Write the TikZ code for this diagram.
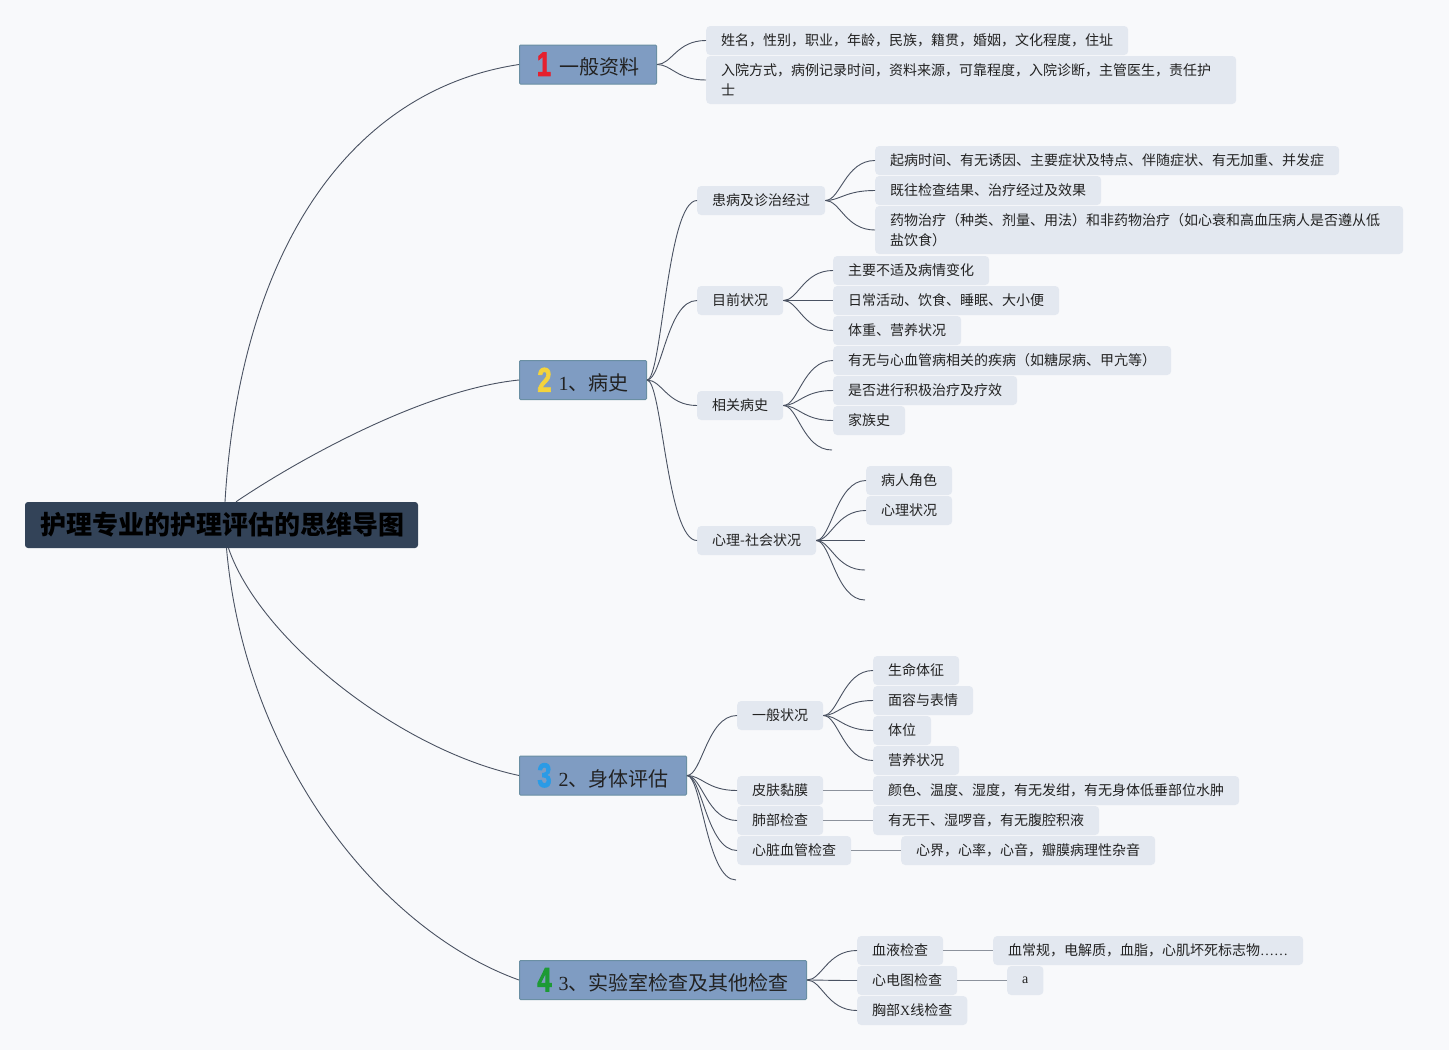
\documentclass[tikz,border=0pt]{standalone}
\usepackage{fontspec}
\usepackage{graphicx}
\setmainfont{Noto Sans CJK SC}
\newfontfamily\numfont{Liberation Sans}[BoldFeatures={FakeBold=2.5}]
\newfontfamily\lserif{Liberation Serif}
\usetikzlibrary{calc}
\definecolor{bgc}{HTML}{F8F9FB}
\definecolor{subc}{HTML}{E3E8F0}
\definecolor{topc}{HTML}{7F9CC2}
\definecolor{topb}{HTML}{6A8FA3}
\definecolor{rootc}{HTML}{334358}
\definecolor{linec}{HTML}{4A5262}
\definecolor{flatc}{HTML}{8C929C}
\definecolor{txtc}{HTML}{222222}
\definecolor{numA}{HTML}{E5202E}
\definecolor{numB}{HTML}{F4D33C}
\definecolor{numC}{HTML}{2B9BE6}
\definecolor{numD}{HTML}{1D9A35}
\newcommand\bignum[2]{\textcolor{#1}{\raisebox{-1pt}{\scalebox{0.75}[1]{\numfont\bfseries\fontsize{34}{34}\selectfont #2}}}}
\newcommand\curv[2]{\draw[conn] let \p1=(#1), \p2=(#2) in (\p1) .. controls (0.7*\x1+0.3*\x2, \y1) and (0.6*\x1+0.4*\x2, \y2) .. (\p2);}
\begin{document}
\begin{tikzpicture}[x=1pt,y=-1pt,
  sub/.style={fill=subc, rounded corners=4pt, inner xsep=15pt, inner ysep=0pt, minimum height=29pt, anchor=west, font=\fontsize{14}{20}\selectfont, text=txtc},
  topic/.style={fill=topc, draw=topb, line width=1pt, inner xsep=0pt, inner ysep=0pt, minimum height=39pt, anchor=west, font=\fontsize{20}{24}\selectfont, text=txtc, rounded corners=1pt},
  root/.style={fill=rootc, rounded corners=3pt, minimum width=393pt, minimum height=46pt, inner sep=0pt, font=\fontsize{26}{30}\selectfont\bfseries, text=black},
  conn/.style={draw=linec, line width=0.9pt},
  flat/.style={draw=flatc, line width=1.6pt}]
\fill[bgc] (0,0) rectangle (1449,1050);
\useasboundingbox (0,0) rectangle (1449,1050);

% root and main topics
\node[root] (root) at (221.5,525) {\hspace{2pt}护理专业的护理评估的思维导图};
\node[topic, minimum width=137pt] (t1) at (519,64.5) {\bignum{numA}{1}\hspace{8pt}一般资料};
\node[topic, minimum width=127pt] (t2) at (519,380) {\bignum{numB}{2}\hspace{7pt}{\lserif 1}、病史};
\node[topic, minimum width=167pt] (t3) at (519,775.5) {\bignum{numC}{3}\hspace{7pt}{\lserif 2}、身体评估};
\node[topic, minimum width=287pt] (t4) at (519,980) {\bignum{numD}{4}\hspace{7pt}{\lserif 3}、实验室检查及其他检查};

\draw[conn] ([xshift=3.5pt]root.north) .. controls (240,250) and (350,90) .. (t1.west);
\draw[conn] ([xshift=14.5pt]root.north) .. controls (290,465) and (420,390) .. (t2.west);
\draw[conn] ([xshift=7pt]root.south) .. controls (260,640) and (400,750) .. (t3.west);
\draw[conn] ([xshift=5pt]root.south) .. controls (245,760) and (380,930) .. (t4.west);

% topic 1
\node[sub] (a1) at (706,40.5) {姓名，性别，职业，年龄，民族，籍贯，婚姻，文化程度，住址};
\node[sub, text width=500pt, align=left, minimum height=48pt] (a2) at (706,80) {入院方式，病例记录时间，资料来源，可靠程度，入院诊断，主管医生，责任护\\士};
\curv{t1.east}{a1.west}
\curv{t1.east}{a2.west}

% topic 2
\node[sub] (b1) at (697,200.5) {患病及诊治经过};
\node[sub] (b11) at (875,160.5) {起病时间、有无诱因、主要症状及特点、伴随症状、有无加重、并发症};
\node[sub] (b12) at (875,190.5) {既往检查结果、治疗经过及效果};
\node[sub, text width=498pt, align=left, minimum height=48pt] (b13) at (875,230) {药物治疗（种类、剂量、用法）和非药物治疗（如心衰和高血压病人是否遵从低\\盐饮食）};
\node[sub] (b2) at (697,300.5) {目前状况};
\node[sub] (b21) at (833,270.5) {主要不适及病情变化};
\node[sub] (b22) at (833,300.5) {日常活动、饮食、睡眠、大小便};
\node[sub] (b23) at (833,330.5) {体重、营养状况};
\node[sub] (b3) at (697,405.5) {相关病史};
\node[sub] (b31) at (833,360.5) {有无与心血管病相关的疾病（如糖尿病、甲亢等）};
\node[sub] (b32) at (833,390.5) {是否进行积极治疗及疗效};
\node[sub] (b33) at (833,420.5) {家族史};
\coordinate (b34) at (832,450);
\node[sub] (b4) at (697,540.5) {心理-社会状况};
\node[sub] (b41) at (866,480.5) {病人角色};
\node[sub] (b42) at (866,510.5) {心理状况};
\coordinate (b43) at (865,540.5);
\coordinate (b44) at (865,570);
\coordinate (b45) at (865,600);

\curv{t2.east}{b1.west}
\curv{t2.east}{b2.west}
\curv{t2.east}{b3.west}
\curv{t2.east}{b4.west}
\curv{b1.east}{b11.west}
\curv{b1.east}{b12.west}
\curv{b1.east}{b13.west}
\curv{b2.east}{b21.west}
\curv{b2.east}{b22.west}
\curv{b2.east}{b23.west}
\curv{b3.east}{b31.west}
\curv{b3.east}{b32.west}
\curv{b3.east}{b33.west}
\curv{b3.east}{b34}
\curv{b4.east}{b41.west}
\curv{b4.east}{b42.west}
\curv{b4.east}{b43}
\curv{b4.east}{b44}
\curv{b4.east}{b45}

% topic 3
\node[sub] (c1) at (737,715.5) {一般状况};
\node[sub] (c11) at (873,670.5) {生命体征};
\node[sub] (c12) at (873,700.5) {面容与表情};
\node[sub] (c13) at (873,730.5) {体位};
\node[sub] (c14) at (873,760.5) {营养状况};
\node[sub] (c2) at (737,790.5) {皮肤黏膜};
\node[sub] (c21) at (873,790.5) {颜色、温度、湿度，有无发绀，有无身体低垂部位水肿};
\node[sub] (c3) at (737,820.5) {肺部检查};
\node[sub] (c31) at (873,820.5) {有无干、湿啰音，有无腹腔积液};
\node[sub] (c4) at (737,850.5) {心脏血管检查};
\node[sub] (c41) at (901,850.5) {心界，心率，心音，瓣膜病理性杂音};
\coordinate (c5) at (736,880);

\curv{t3.east}{c1.west}
\curv{t3.east}{c2.west}
\curv{t3.east}{c3.west}
\curv{t3.east}{c4.west}
\curv{t3.east}{c5}
\curv{c1.east}{c11.west}
\curv{c1.east}{c12.west}
\curv{c1.east}{c13.west}
\curv{c1.east}{c14.west}
\draw[flat] (c2.east) -- (c21.west);
\draw[flat] (c3.east) -- (c31.west);
\draw[flat] (c4.east) -- (c41.west);

% topic 4
\node[sub] (d1) at (857,950.5) {血液检查};
\node[sub] (d11) at (993,950.5) {血常规，电解质，血脂，心肌坏死标志物{\lserif ……}};
\node[sub] (d2) at (857,980.5) {心电图检查};
\node[sub] (d21) at (1007,980.5) {\lserif a};
\node[sub] (d3) at (857,1010.5) {胸部{\lserif X}线检查};

\curv{t4.east}{d1.west}
\curv{t4.east}{d2.west}
\curv{t4.east}{d3.west}
\draw[flat] (d1.east) -- (d11.west);
\draw[flat] (d2.east) -- (d21.west);
\end{tikzpicture}
\end{document}
